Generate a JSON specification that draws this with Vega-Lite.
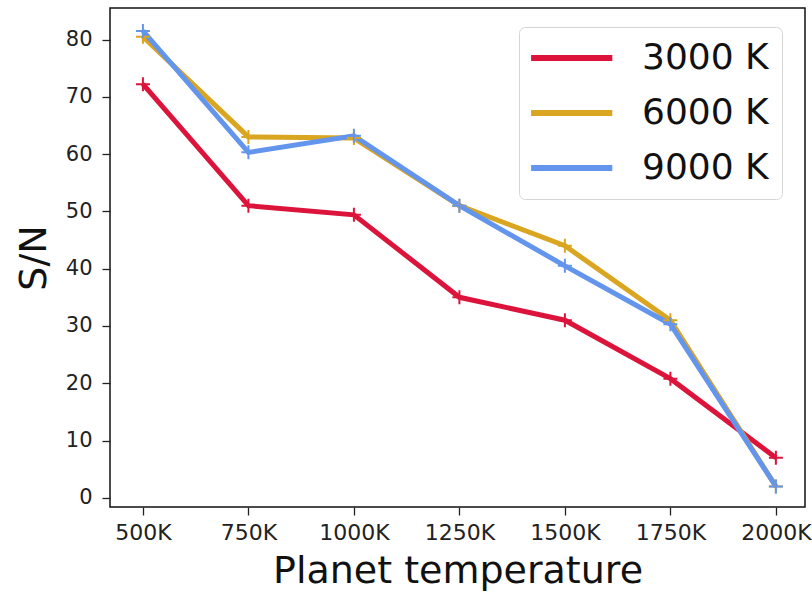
{
  "$schema": "https://vega.github.io/schema/vega-lite/v6.json",
  "autosize": {"type": "none"},
  "padding": {"left": 110, "top": 8, "right": 7, "bottom": 85},
  "width": 695,
  "height": 499,
  "background": "white",
  "config": {
    "font": "DejaVu Sans",
    "view": {"stroke": "#111", "strokeWidth": 1.5},
    "axis": {"domain": false, "grid": false, "tickColor": "#222", "tickWidth": 1.3, "tickSize": 8, "labelColor": "#222", "titleColor": "#111", "labelFont": "DejaVu Sans", "titleFont": "DejaVu Sans", "titleFontWeight": "normal"}
  },
  "data": {"values": [
    {"series": "3000 K", "temp": 500, "sn": 72.2},
    {"series": "3000 K", "temp": 750, "sn": 51.0},
    {"series": "3000 K", "temp": 1000, "sn": 49.4},
    {"series": "3000 K", "temp": 1250, "sn": 35.0},
    {"series": "3000 K", "temp": 1500, "sn": 31.0},
    {"series": "3000 K", "temp": 1750, "sn": 20.8},
    {"series": "3000 K", "temp": 2000, "sn": 7.0},
    {"series": "6000 K", "temp": 500, "sn": 80.5},
    {"series": "6000 K", "temp": 750, "sn": 63.0},
    {"series": "6000 K", "temp": 1000, "sn": 62.8},
    {"series": "6000 K", "temp": 1250, "sn": 51.0},
    {"series": "6000 K", "temp": 1500, "sn": 44.0},
    {"series": "6000 K", "temp": 1750, "sn": 31.0},
    {"series": "6000 K", "temp": 2000, "sn": 2.0},
    {"series": "9000 K", "temp": 500, "sn": 81.5},
    {"series": "9000 K", "temp": 750, "sn": 60.3},
    {"series": "9000 K", "temp": 1000, "sn": 63.2},
    {"series": "9000 K", "temp": 1250, "sn": 51.0},
    {"series": "9000 K", "temp": 1500, "sn": 40.5},
    {"series": "9000 K", "temp": 1750, "sn": 30.3},
    {"series": "9000 K", "temp": 2000, "sn": 2.0}
  ]},
  "encoding": {
    "x": {"field": "temp", "type": "quantitative",
      "scale": {"domain": [422, 2069], "nice": false, "zero": false},
      "axis": {"values": [500, 750, 1000, 1250, 1500, 1750, 2000], "labelExpr": "datum.value + 'K'", "labelFontSize": 22, "labelPadding": 7, "title": "Planet temperature", "titleFontSize": 38, "titlePadding": 9}},
    "y": {"field": "sn", "type": "quantitative",
      "scale": {"domain": [-1.6, 85.5], "nice": false, "zero": false},
      "axis": {"values": [0, 10, 20, 30, 40, 50, 60, 70, 80], "labelFontSize": 21, "labelPadding": 10, "title": "S/N", "titleFontSize": 38, "titlePadding": 12}},
    "color": {"field": "series", "type": "nominal",
      "scale": {"domain": ["3000 K", "6000 K", "9000 K"], "range": ["#DC143C", "#DAA520", "#6495ED"]},
      "legend": {"title": null, "orient": "none", "legendX": 409, "legendY": 19, "symbolType": "M-1.35,0H4.45", "symbolSize": 784, "symbolStrokeWidth": 6, "labelFontSize": 36, "labelColor": "#111", "labelOffset": 74, "padding": 13, "cornerRadius": 6, "strokeColor": "#d5d5d5", "fillColor": "rgba(255,255,255,0.85)", "rowPadding": 19}}
  },
  "layer": [
    {"mark": {"type": "line", "strokeWidth": 5}},
    {"mark": {"type": "point", "shape": "M-1,0H1M0,-1V1", "filled": false, "size": 196, "strokeWidth": 2, "opacity": 1}}
  ]
}
